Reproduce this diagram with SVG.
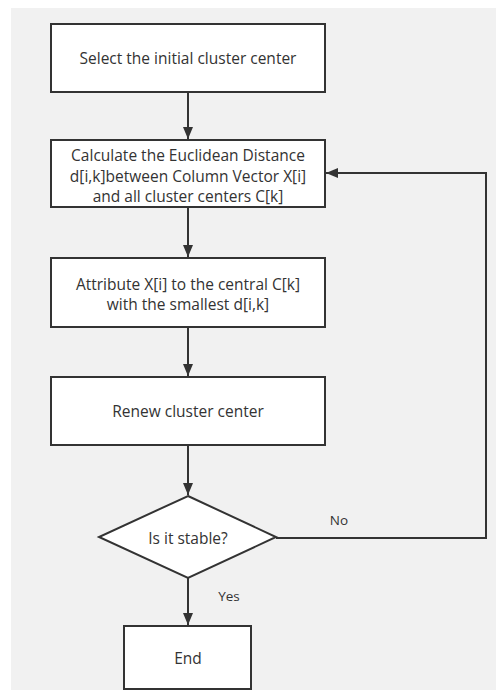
<svg xmlns="http://www.w3.org/2000/svg" width="496" height="694" viewBox="0 0 496 694">
<style>
.box{fill:#fff;stroke:#333;stroke-width:2}
.t{font-family:"Open Sans","Noto Sans","Liberation Sans",sans-serif;font-size:15.5px;fill:#333;text-anchor:middle;dominant-baseline:central}
.c{fill:none;stroke:#333;stroke-width:2}
.lbl{font-family:"Open Sans","Noto Sans","Liberation Sans",sans-serif;font-size:13.5px;fill:#333;text-anchor:middle;dominant-baseline:central}
</style>
<defs>
<marker id="ah" viewBox="0 0 12 10" refX="12" refY="5" markerWidth="12" markerHeight="10" markerUnits="userSpaceOnUse" orient="auto">
<path d="M0,0 L12,5 L0,10 Z" fill="#333"/>
</marker>
</defs>
<rect x="0" y="0" width="496" height="694" fill="#fff"/>
<rect x="11" y="8" width="485" height="682" fill="#f1f1f1"/>
<g id="connectors">
<line class="c" x1="188" y1="92" x2="188" y2="139" marker-end="url(#ah)"/>
<line class="c" x1="188" y1="207" x2="188" y2="257" marker-end="url(#ah)"/>
<line class="c" x1="188" y1="327" x2="188" y2="376" marker-end="url(#ah)"/>
<line class="c" x1="188" y1="445" x2="188" y2="495" marker-end="url(#ah)"/>
<line class="c" x1="188" y1="578" x2="188" y2="625" marker-end="url(#ah)"/>
<polyline class="c" points="276,538 486,538 486,173 326,173" marker-end="url(#ah)"/>
<text class="lbl" x="339" y="520">No</text>
<text class="lbl" x="229" y="596">Yes</text>
</g>
<g id="n1">
<rect class="box" x="51" y="24" width="274" height="68"/>
<text class="t" x="188" y="58">Select the initial cluster center</text>
</g>
<g id="n2">
<rect class="box" x="51" y="140" width="274" height="67"/>
<text class="t" x="188" y="155">Calculate the Euclidean Distance</text>
<text class="t" x="188" y="176">d[i,k]between Column Vector X[i]</text>
<text class="t" x="188" y="196">and all cluster centers C[k]</text>
</g>
<g id="n3">
<rect class="box" x="51" y="258" width="274" height="69"/>
<text class="t" x="188" y="284">Attribute X[i] to the central C[k]</text>
<text class="t" x="188" y="304">with the smallest d[i,k]</text>
</g>
<g id="n4">
<rect class="box" x="51" y="377" width="274" height="68"/>
<text class="t" x="188" y="411">Renew cluster center</text>
</g>
<g id="n5">
<polygon class="box" points="188,496 276,537 188,578 99,537"/>
<text class="t" x="188" y="538">Is it stable?</text>
</g>
<g id="n6">
<rect class="box" x="124" y="626" width="127" height="63"/>
<text class="t" x="188" y="658">End</text>
</g>
</svg>
